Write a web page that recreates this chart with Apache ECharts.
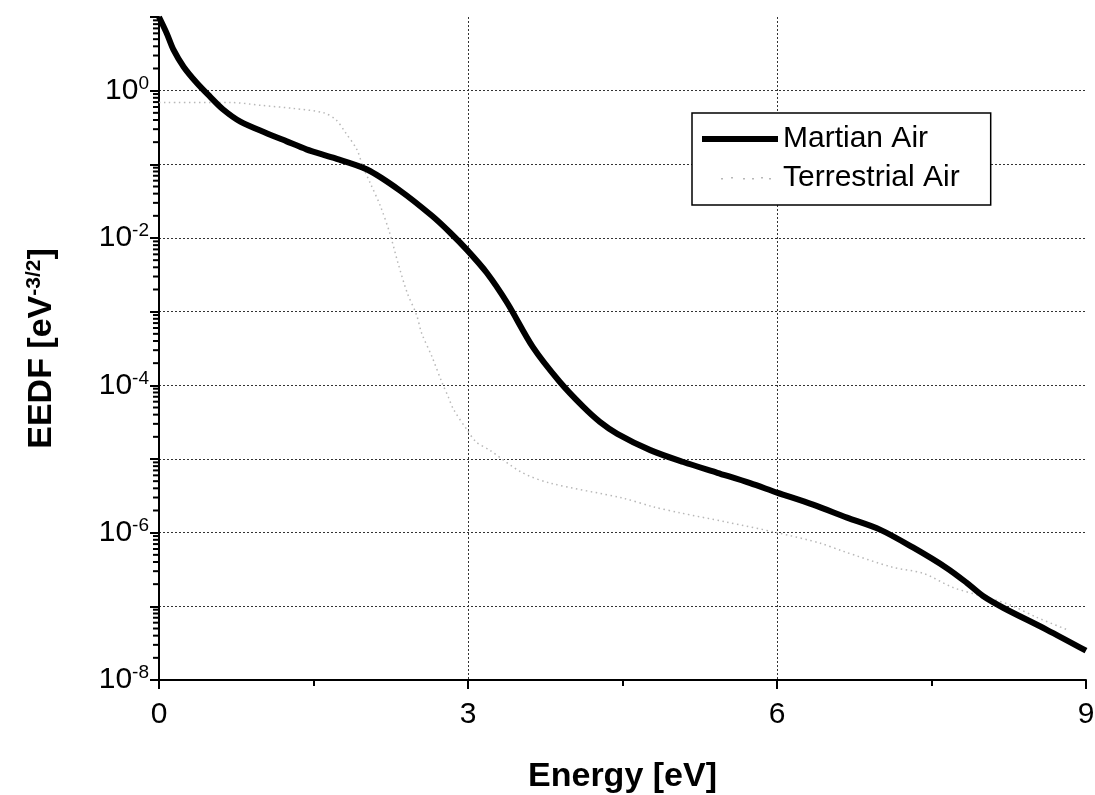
<!DOCTYPE html>
<html>
<head>
<meta charset="utf-8">
<title>EEDF</title>
<script src="https://cdn.jsdelivr.net/npm/echarts@6/dist/echarts.min.js"></script>
<style>
  html, body { margin: 0; padding: 0; background: #fff; }
  #chart { width: 1095px; height: 795px; }
</style>
</head>
<body>
<div id="chart"></div>
<script>
// Electron energy distribution functions (EEDF) vs. energy
const seriesNames = ['Martian Air', 'Terrestrial Air'];

const martianEnergy = [0, 0.075, 0.14, 0.24, 0.37, 0.495, 0.62, 0.79, 1.05, 1.24, 1.43, 1.69, 2.02, 2.34,
  2.65, 2.83, 2.99, 3.18, 3.38, 3.63, 3.89, 4.12, 4.28, 4.45, 4.77, 5.09, 5.42, 5.74, 6.0, 6.35, 6.68, 7.0,
  7.32, 7.65, 7.84, 8.0, 8.2, 8.62, 9.0];
const martianEedf = [10, 6.0, 3.6, 2.1, 1.26, 0.83, 0.56, 0.38, 0.263, 0.205, 0.16, 0.123, 0.085, 0.044,
  0.020, 0.0117, 0.0069, 3.4e-3, 1.32e-3, 3.3e-4, 1.12e-4, 5.1e-5, 3.2e-5, 2.2e-5, 1.32e-5, 9.1e-6, 6.5e-6, 4.7e-6,
  3.5e-6, 2.4e-6, 1.6e-6, 1.1e-6, 6.3e-7, 3.3e-7, 2.1e-7, 1.38e-7, 9.5e-8, 4.8e-8, 2.5e-8];

const terrestrialEnergy = [0, 0.7, 1.0, 1.3, 1.6, 1.72, 1.81, 1.92, 1.98, 2.05, 2.15, 2.24, 2.32, 2.41, 2.5, 2.55,
  2.65, 2.75, 2.81, 2.86, 2.99, 3.08, 3.21, 3.52, 3.8, 4.5, 4.8, 5.06, 5.5, 6.0, 6.42, 6.64, 7.12, 7.42, 7.71,
  7.97, 8.26, 8.52, 8.82];
const terrestrialEedf = [0.69, 0.69, 0.63, 0.575, 0.50, 0.40, 0.27, 0.16, 0.093, 0.056, 0.027, 0.0117, 4.6e-3,
  1.8e-3, 9.1e-4, 5.1e-4, 2.45e-4, 1.07e-4, 6.9e-5, 4.7e-5, 2.5e-5, 1.7e-5, 1.32e-5, 6.6e-6, 4.7e-6, 2.95e-6,
  2.24e-6, 1.86e-6, 1.4e-6, 1.0e-6, 7.2e-7, 5.6e-7, 3.4e-7, 2.8e-7, 1.8e-7, 1.4e-7, 1.05e-7, 7.1e-8, 4.8e-8];

// Axis settings
const xTicks = [0, 3, 6, 9];
const yDecadeMin = -8;
const yDecadeMax = 1;
const yLabelledExponents = [0, -2, -4, -6, -8];

// Log-spaced minor tick positions (2..9 x 10^k) for the y axis
const yMinorTicks = [];
for (let k = yDecadeMin; k < yDecadeMax; k++) {
  for (let m = 2; m <= 9; m++) yMinorTicks.push([0, m * Math.pow(10, k)]);
}

const pairs = (xs, ys) => xs.map((x, i) => [x, ys[i]]);
const FONT = '"Liberation Sans", Arial, sans-serif';
const TERRESTRIAL_GREY = '#b8b8b8';

// Legend glyphs: a thick bar and a sparse dotted trace (corner points fix the 76x14 box)
const ICON_SOLID = 'path://M0,0L0,0ZM0,4L76,4L76,10L0,10ZM76,14L76,14Z';
const ICON_DOTS = 'path://M0,0L0,0Z' +
  'M19,7L21,7L21,8.5L19,8.5Z' +
  'M29,6L31,6L31,7.5L29,7.5Z' +
  'M41,7L43,7L43,8.5L41,8.5Z' +
  'M50,7L52,7L52,8.5L50,8.5Z' +
  'M59,6L61,6L61,7.5L59,7.5Z' +
  'M67,7L69,7L69,8.5L67,8.5Z' +
  'M76,14L76,14Z';

const chart = echarts.init(document.getElementById('chart'), null, { renderer: 'canvas' });

chart.setOption({
  backgroundColor: '#ffffff',
  animation: false,
  grid: { left: 159, right: 9, top: 17, bottom: 115, outerBoundsMode: 'none' },
  legend: {
    data: [
      { name: seriesNames[0], icon: ICON_SOLID, itemStyle: { color: '#000' } },
      { name: seriesNames[1], icon: ICON_DOTS, itemStyle: { color: TERRESTRIAL_GREY } }
    ],
    orient: 'vertical',
    left: 692,
    top: 113,
    padding: [11, 31, 12, 10],
    itemGap: 9,
    itemWidth: 76,
    itemHeight: 14,
    borderColor: '#000',
    borderWidth: 1.5,
    backgroundColor: '#fff',
    textStyle: { fontFamily: FONT, fontSize: 30, color: '#000' }
  },
  xAxis: {
    type: 'value',
    min: xTicks[0],
    max: xTicks[xTicks.length - 1],
    interval: 3,
    name: 'Energy [eV]',
    nameLocation: 'middle',
    nameGap: 80,
    nameTextStyle: { fontFamily: FONT, fontSize: 34, fontWeight: 'bold', color: '#000' },
    axisLine: { show: true, onZero: false, lineStyle: { color: '#000', width: 2 } },
    axisTick: { show: true, length: 9, lineStyle: { color: '#000', width: 2 } },
    minorTick: { show: true, splitNumber: 2, length: 6, lineStyle: { color: '#000', width: 2 } },
    axisLabel: { fontFamily: FONT, fontSize: 30, color: '#000', margin: 20 },
    splitLine: {
      show: true, showMinLine: false, showMaxLine: false,
      lineStyle: { color: '#333', width: 1, type: [2, 2] }
    }
  },
  yAxis: {
    type: 'log',
    logBase: 10,
    min: Math.pow(10, yDecadeMin),
    max: Math.pow(10, yDecadeMax),
    splitNumber: yDecadeMax - yDecadeMin,
    name: 'EEDF [eV{sup|-3/2}]',
    nameLocation: 'middle',
    nameGap: 100,
    nameTextStyle: {
      fontFamily: FONT, fontSize: 34, fontWeight: 'bold', color: '#000',
      rich: {
        sup: { fontFamily: FONT, fontSize: 21, fontWeight: 'bold', color: '#000', verticalAlign: 'top', padding: [0, 0, 14, 0] }
      }
    },
    axisLine: { show: true, onZero: false, lineStyle: { color: '#000', width: 2 } },
    axisTick: { show: true, length: 9, lineStyle: { color: '#000', width: 2 } },
    axisLabel: {
      fontFamily: FONT, fontSize: 30, color: '#000', margin: 10,
      formatter: function (v) {
        const e = Math.round(Math.log10(v));
        if (yLabelledExponents.indexOf(e) < 0) return '';
        return '{base|10}{sup|' + e + '}';
      },
      rich: {
        base: { fontFamily: FONT, fontSize: 30, color: '#000' },
        sup: { fontFamily: FONT, fontSize: 19, color: '#000', verticalAlign: 'top', padding: [0, 0, 14, 0] }
      }
    },
    splitLine: {
      show: true, showMinLine: false, showMaxLine: false,
      lineStyle: { color: '#333', width: 1, type: [2, 2] }
    }
  },
  series: [
    {
      name: seriesNames[0],
      type: 'line',
      data: pairs(martianEnergy, martianEedf),
      smooth: 0.3,
      showSymbol: false,
      symbol: 'none',
      z: 3,
      lineStyle: { color: '#000', width: 6 },
      itemStyle: { color: '#000' }
    },
    {
      name: seriesNames[1],
      type: 'line',
      data: pairs(terrestrialEnergy, terrestrialEedf),
      smooth: 0.3,
      showSymbol: false,
      symbol: 'none',
      z: 2,
      lineStyle: { color: TERRESTRIAL_GREY, width: 1.5, type: [1.5, 3.5] },
      itemStyle: { color: TERRESTRIAL_GREY }
    },
    {
      // minor ticks on the logarithmic axis
      name: 'yMinorTicks',
      type: 'custom',
      data: yMinorTicks,
      silent: true,
      clip: false,
      z: 5,
      renderItem: function (params, api) {
        const p = api.coord([0, api.value(1)]);
        return {
          type: 'line',
          shape: { x1: p[0] - 6, y1: p[1], x2: p[0], y2: p[1] },
          style: { stroke: '#000', lineWidth: 2 }
        };
      }
    }
  ]
});
</script>
</body>
</html>
